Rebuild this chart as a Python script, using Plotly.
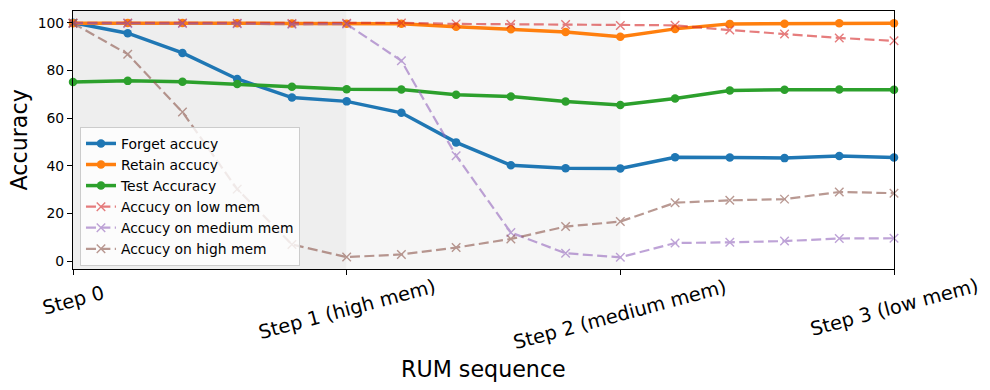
import plotly.graph_objects as go

# ---------------- data ----------------
steps = list(range(16))
forget_acc = [100.0, 95.6, 87.3, 76.4, 68.6, 67.0, 62.2, 49.8, 40.2, 39.0, 38.9, 43.6, 43.5, 43.2, 44.1, 43.5]
retain_acc = [99.8, 99.9, 99.9, 99.8, 99.7, 99.6, 99.6, 98.3, 97.2, 96.1, 94.1, 97.4, 99.5, 99.6, 99.8, 99.8]
test_acc = [75.1, 75.6, 75.2, 74.3, 73.1, 72.1, 72.0, 69.8, 69.0, 66.9, 65.5, 68.2, 71.6, 71.9, 72.0, 71.9]
low_mem_acc = [99.9, 99.9, 99.9, 99.8, 99.7, 99.8, 99.9, 99.5, 99.3, 99.2, 98.8, 98.9, 96.9, 95.3, 93.6, 92.4]
medium_mem_acc = [99.7, 99.7, 99.7, 99.6, 99.3, 99.4, 84.0, 44.2, 12.0, 3.3, 1.6, 7.6, 7.9, 8.4, 9.5, 9.6]
high_mem_acc = [99.8, 86.8, 62.5, 30.2, 7.0, 1.7, 2.8, 5.7, 9.3, 14.5, 16.6, 24.5, 25.5, 26.0, 29.0, 28.5]

tick_positions = [0, 5, 10, 15]
tick_labels = ["Step 0", "Step 1 (high mem)", "Step 2 (medium mem)", "Step 3 (low mem)"]
y_ticks = [0, 20, 40, 60, 80, 100]
shade_spans = [(0, 5), (5, 10)]

# ---------------- styling ----------------
FONT = "DejaVu Sans"
shade_colors = ["#eeeeee", "#f6f6f6"]

fig = go.Figure()

for (x0, x1), col in zip(shade_spans, shade_colors):
    fig.add_shape(type="rect", xref="x", yref="paper", x0=x0, x1=x1, y0=0, y1=1,
                  fillcolor=col, line=dict(width=0), layer="below")

solid = [
    ("Forget accucy", forget_acc, "#1f77b4"),
    ("Retain accucy", retain_acc, "#ff7f0e"),
    ("Test Accuracy", test_acc, "#2ca02c"),
]
for name, vals, c in solid:
    fig.add_trace(go.Scatter(
        x=steps, y=vals, name=name, mode="lines+markers",
        line=dict(color=c, width=3.5),
        marker=dict(size=8.5, color=c),
        cliponaxis=False,
    ))

dashed = [
    ("Accucy on low mem", low_mem_acc, "#d62728"),
    ("Accucy on medium mem", medium_mem_acc, "#9467bd"),
    ("Accucy on high mem", high_mem_acc, "#8c564b"),
]
for name, vals, c in dashed:
    fig.add_trace(go.Scatter(
        x=steps, y=vals, name=name, mode="lines+markers", opacity=0.6,
        line=dict(color=c, width=2.2, dash="10px,4.4px"),
        marker=dict(symbol="x-thin", size=8.5, color=c, line=dict(color=c, width=1.4)),
        cliponaxis=False,
    ))

fig.update_layout(
    width=990, height=390,
    margin=dict(l=73, r=96, t=11, b=121),
    plot_bgcolor="white", paper_bgcolor="white",
    font=dict(family=FONT, color="black", size=14),
    showlegend=True,
    legend=dict(
        x=0.0085, y=0.012, xanchor="left", yanchor="bottom",
        bgcolor="rgba(255,255,255,0.8)", bordercolor="#cccccc", borderwidth=1,
        font=dict(family=FONT, size=13.9, color="black"),
        tracegroupgap=0, itemwidth=30,
    ),
)

axis_common = dict(
    showline=True, linecolor="black", linewidth=1.1, mirror=True,
    ticks="outside", ticklen=5, tickwidth=1.1, tickcolor="black",
    showgrid=False, zeroline=False, automargin=False,
)
fig.update_xaxes(range=[0, 15], tickvals=tick_positions, ticktext=[""] * len(tick_positions),
                 **axis_common)
fig.update_yaxes(range=[-3.3, 104.9], tickvals=y_ticks,
                 tickfont=dict(family=FONT, size=13.9, color="black"), **axis_common)

label_shifts = [-9.5, -3, -3, -3]
for p, t, ys in zip(tick_positions, tick_labels, label_shifts):
    fig.add_annotation(x=p, xref="x", y=0, yref="paper", text=t, textangle=-15,
                       xanchor="center", yanchor="top", yshift=ys, showarrow=False,
                       font=dict(family=FONT, size=19.4, color="black"))

fig.add_annotation(x=0.5, xref="paper", y=0, yref="paper", text="RUM sequence",
                   xanchor="center", yanchor="middle", yshift=-100, showarrow=False,
                   font=dict(family=FONT, size=22.2, color="black"))
fig.add_annotation(x=0, xref="paper", y=0.5, yref="paper", text="Accuracy", textangle=-90,
                   xanchor="center", yanchor="middle", xshift=-54.5, showarrow=False,
                   font=dict(family=FONT, size=22.2, color="black"))

fig.write_html("out.html", config={"displayModeBar": False},
               post_script="document.body.style.margin='0px';document.body.style.overflow='hidden';")
